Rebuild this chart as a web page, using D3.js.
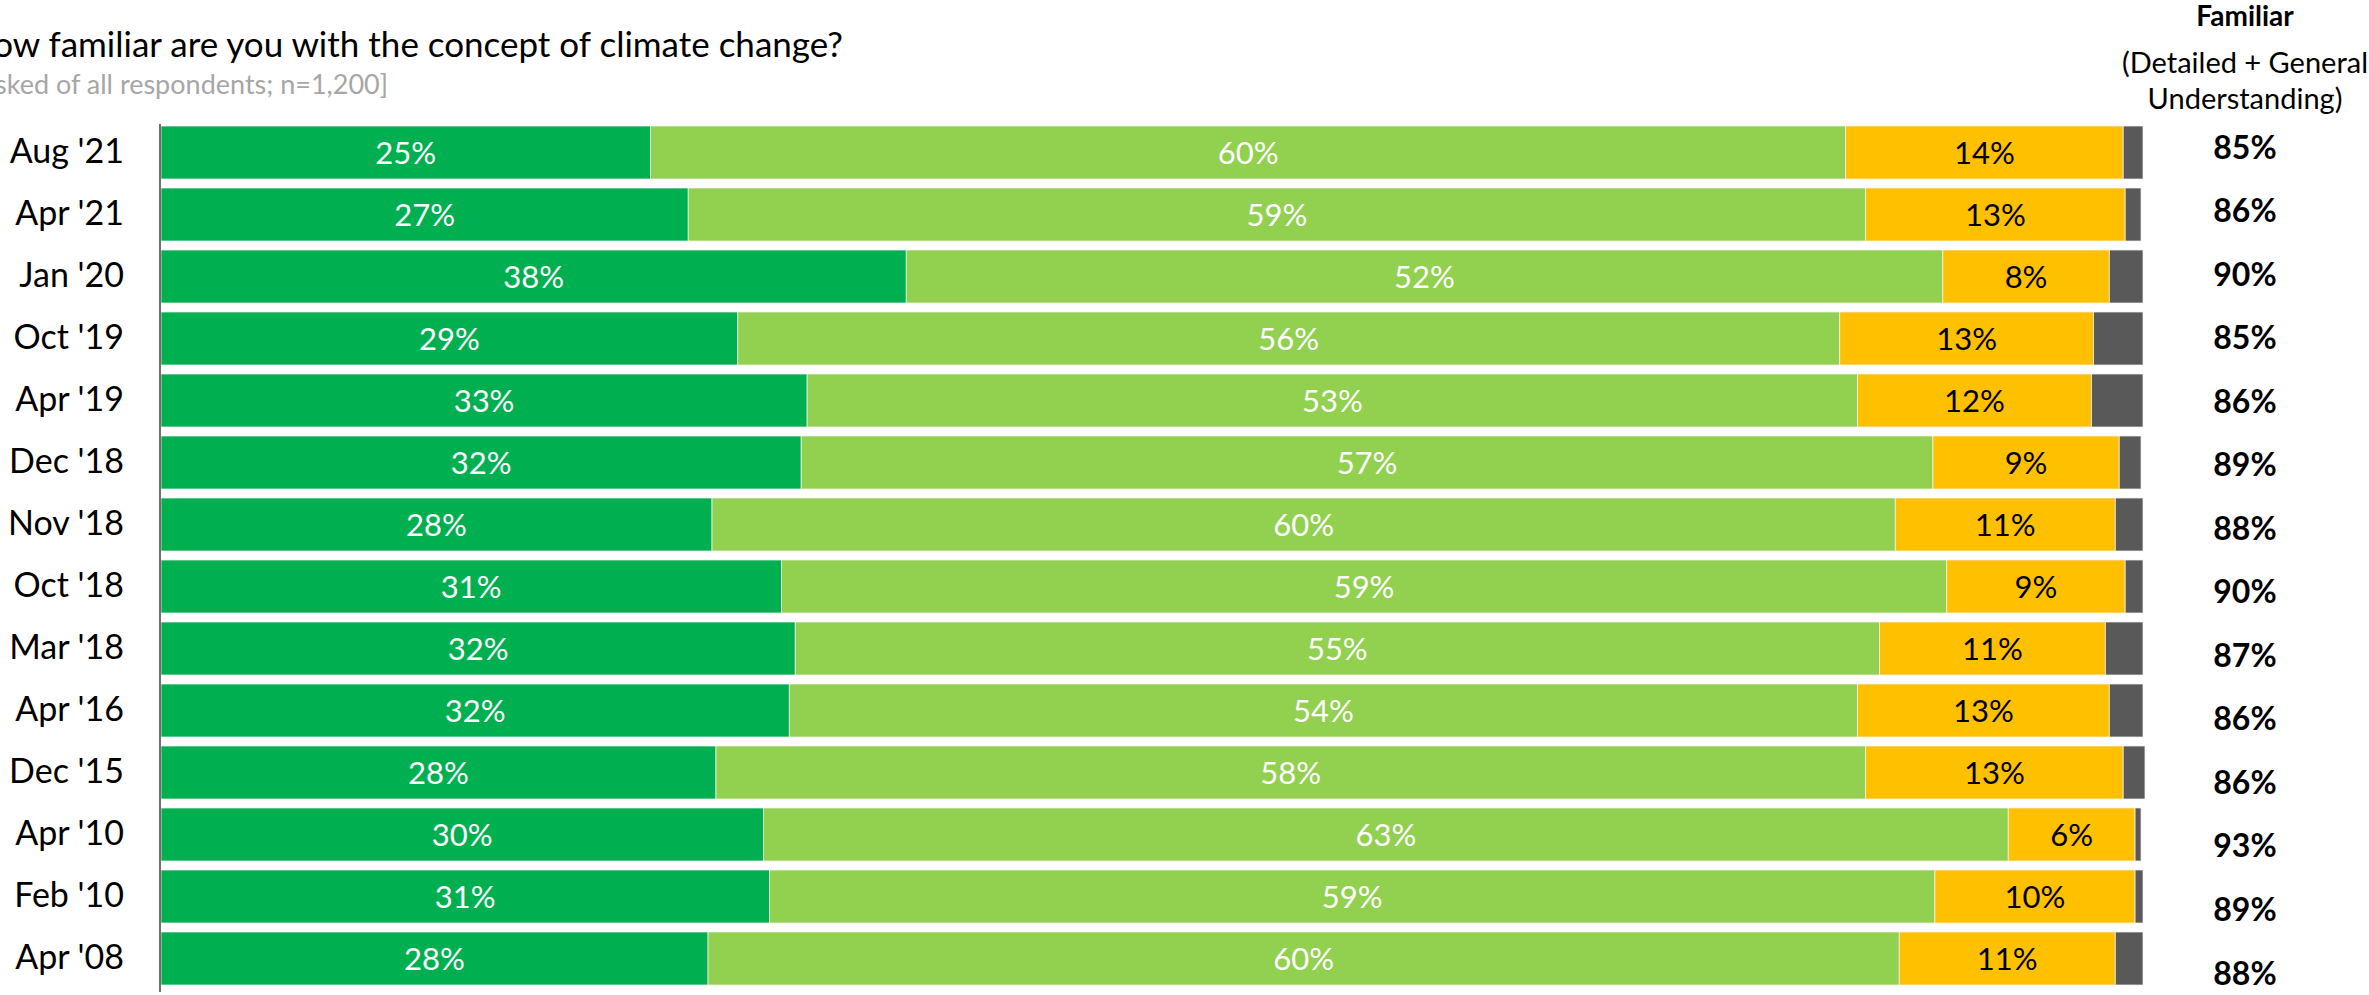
<!DOCTYPE html>
<html lang="en">
	<head>
		<meta charset="utf-8">
		<title>Familiarity with climate change</title>
		<script src="https://d3js.org/d3.v7.min.js" charset="utf-8"></script>
		<style type="text/css">
		body {
		margin: 0;
		background: #fff;
		}
		svg text {
		font-family: Lato, "Open Sans", sans-serif;
		}
		</style>
	</head>

	<body>
		<div id="chart"></div>

		<script>
			var width = 2369;
			var height = 995;

			// survey waves, top to bottom
			var waves = ["Aug '21", "Apr '21", "Jan '20", "Oct '19", "Apr '19", "Dec '18", "Nov '18",
			             "Oct '18", "Mar '18", "Apr '16", "Dec '15", "Apr '10", "Feb '10", "Apr '08"];
			// share of respondents (%)
			var detailed  = [24.7, 26.6, 37.6, 29.1, 32.6, 32.3, 27.8, 31.3, 32.0, 31.7, 28.0, 30.4, 30.7, 27.6];
			var general   = [60.3, 59.4, 52.3, 55.6, 53.0, 57.1, 59.7, 58.8, 54.7, 53.9, 58.0, 62.8, 58.8, 60.1];
			var heardOnly = [14.0, 13.1, 8.4, 12.8, 11.8, 9.4, 11.1, 9.0, 11.4, 12.7, 13.0, 6.4, 10.1, 10.9];
			var notSure   = [1.0, 0.8, 1.7, 2.5, 2.6, 1.1, 1.4, 0.9, 1.9, 1.7, 1.1, 0.3, 0.4, 1.4];
			// familiar = detailed + general, as printed
			var familiar  = [85, 86, 90, 85, 86, 89, 88, 90, 87, 86, 86, 93, 89, 88];

			var keys = ["detailed", "general", "heardOnly", "notSure"];
			var colors = ["#00b050", "#92d050", "#ffc000", "#595959"];
			var labelColors = ["#ffffff", "#ffffff", "#000000", null];

			var rows = waves.map(function(w, i) {
				return {wave: w, detailed: detailed[i], general: general[i], heardOnly: heardOnly[i], notSure: notSure[i]};
			});

			var svg = d3.select("div#chart")
						.append("svg")
						.attr("width", width)
						.attr("height", height);

			svg.append("rect")
				.attr("width", width)
				.attr("height", height)
				.attr("fill", "#fff");

			var x = d3.scaleLinear()
						.domain([0, 100])
						.range([161, 2143]);

			var y = d3.scaleBand()
						.domain(waves)
						.range([126, 985])
						.paddingInner(0.145)
						.paddingOuter(0);

			var yFam = d3.scalePoint()
						.domain(waves)
						.range([147, 973]);

			var stack = d3.stack().keys(keys);
			var series = stack(rows);

//title
			svg.append("text")
				.attr("x", 843)
				.attr("y", 57)
				.attr("text-anchor", "end")
				.attr("font-size", "35px")
				.attr("fill", "#000")
				.text("How familiar are you with the concept of climate change?");

			svg.append("text")
				.attr("x", 388)
				.attr("y", 94)
				.attr("text-anchor", "end")
				.attr("font-size", "27px")
				.attr("fill", "#a6a6a6")
				.text("[Asked of all respondents; n=1,200]");

//bars
			var layer = svg.selectAll("g.layer")
				.data(series)
				.enter().append("g")
				.attr("class", "layer")
				.attr("fill", function(d, i) { return colors[i]; });

			layer.selectAll("rect")
				.data(function(d) { return d; })
				.enter().append("rect")
				.attr("x", function(d) { return x(d[0]); })
				.attr("y", function(d) { return y(d.data.wave); })
				.attr("width", function(d) { return x(d[1]) - x(d[0]); })
				.attr("height", y.bandwidth())
				.attr("stroke", "#f2f2f2")
				.attr("stroke-width", 0.75);

			layer.filter(function(d, i) { return labelColors[i] != null; })
				.selectAll("text")
				.data(function(d) { return d; })
				.enter().append("text")
				.attr("x", function(d) { return (x(d[0]) + x(d[1])) / 2; })
				.attr("y", function(d) { return y(d.data.wave) + y.bandwidth() / 2; })
				.attr("dy", "0.36em")
				.attr("text-anchor", "middle")
				.attr("font-size", "31px")
				.attr("fill", function() { return labelColors[keys.indexOf(d3.select(this.parentNode).datum().key)]; })
				.text(function(d) { return Math.round(d[1] - d[0]) + "%"; });

//axis
			var axis = svg.append("g")
				.attr("transform", "translate(160,0)")
				.call(d3.axisLeft(y).tickSize(0).tickPadding(36));
			axis.select(".domain")
				.attr("stroke", "#404040")
				.attr("stroke-width", 1.5)
				.attr("d", "M0,124V992");
			axis.selectAll("text")
				.attr("font-size", "34px")
				.attr("fill", "#000");

//familiar column
			var famX = 2245;
			svg.append("text")
				.attr("x", famX)
				.attr("y", 26)
				.attr("text-anchor", "middle")
				.attr("font-size", "28px")
				.attr("font-weight", "bold")
				.text("Familiar");
			svg.append("text")
				.attr("x", famX)
				.attr("y", 73)
				.attr("text-anchor", "middle")
				.attr("font-size", "29px")
				.text("(Detailed + General");
			svg.append("text")
				.attr("x", famX)
				.attr("y", 109)
				.attr("text-anchor", "middle")
				.attr("font-size", "29px")
				.text("Understanding)");

			svg.selectAll("text.fam")
				.data(familiar)
				.enter().append("text")
				.attr("class", "fam")
				.attr("x", famX)
				.attr("y", function(d, i) { return yFam(waves[i]); })
				.attr("dy", "0.36em")
				.attr("text-anchor", "middle")
				.attr("font-size", "32px")
				.attr("font-weight", "bold")
				.text(function(d) { return d + "%"; });
		</script>
	</body>
</html>
